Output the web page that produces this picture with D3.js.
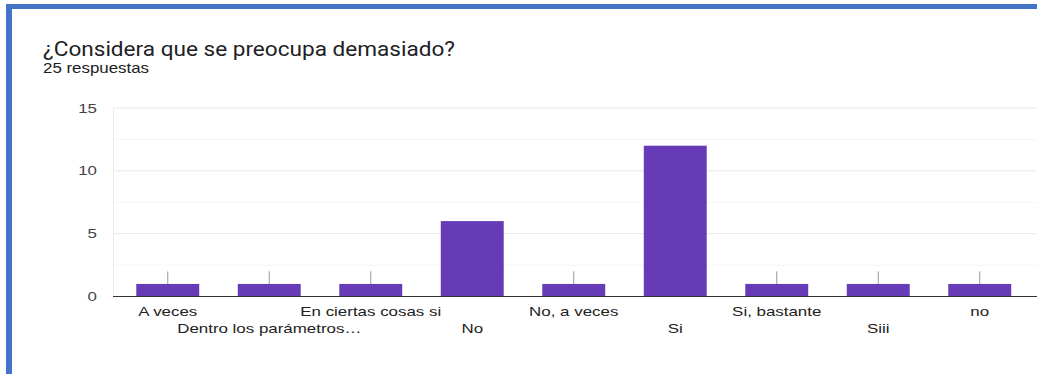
<!DOCTYPE html>
<html>
  <head>
    <meta charset="UTF-8" />
    <script src="https://cdnjs.cloudflare.com/ajax/libs/d3/7.8.5/d3.min.js"></script>
    <style>
      html, body { margin: 0; padding: 0; background: #fff; }
    </style>
  </head>
  <body>
    <svg id="chart" width="1037" height="374"></svg>
    <script>
      const title = "¿Considera que se preocupa demasiado?";
      const subtitle = "25 respuestas";
      const categories = [
        "A veces",
        "Dentro los parámetros…",
        "En ciertas cosas si",
        "No",
        "No, a veces",
        "Si",
        "Si, bastante",
        "Siii",
        "no"
      ];
      const counts = [1, 1, 1, 6, 1, 12, 1, 1, 1];
      const yTicks = [0, 5, 10, 15];
      const yMinorTicks = [2.5, 7.5, 12.5];

      const purple = "#673ab7",
        border = "#4573c7";

      // the screenshot is a bit wider than tall, so text is stretched sideways
      const stretch = 1.3;
      function widen(sel, k) {
        sel.each(function () {
          const w = this.getComputedTextLength();
          d3.select(this)
            .attr("textLength", w * (k || stretch))
            .attr("lengthAdjust", "spacingAndGlyphs");
        });
      }
      function fitTo(sel, width) {
        sel.attr("textLength", width).attr("lengthAdjust", "spacingAndGlyphs");
      }

      const svg = d3.select("#chart");

      // blue frame (top + left)
      svg.append("rect").attr("x", 6).attr("y", 4).attr("width", 1031).attr("height", 5).attr("fill", border);
      svg.append("rect").attr("x", 6).attr("y", 4).attr("width", 6).attr("height", 370).attr("fill", border);

      svg.append("text")
        .attr("x", 43).attr("y", 56)
        .attr("font-family", "Roboto, Arial, sans-serif")
        .attr("font-size", 20)
        .attr("fill", "#202124")
        .text(title)
        .call(fitTo, 412);
      svg.append("text")
        .attr("x", 43).attr("y", 73)
        .attr("font-family", "Arial, Liberation Sans, sans-serif")
        .attr("font-size", 14.5)
        .attr("fill", "#202124")
        .text(subtitle)
        .call(fitTo, 106);

      const step = 101.5;
      const x = d3.scaleBand()
        .domain(categories)
        .range([117, 117 + step * categories.length])
        .paddingInner(0.38)
        .paddingOuter(0.19);
      const y = d3.scaleLinear().domain([0, 15]).range([296.5, 108]);

      // gridlines
      svg.append("g").selectAll("line.minor")
        .data(yMinorTicks).enter().append("line")
        .attr("x1", 113).attr("x2", 1037)
        .attr("y1", d => y(d)).attr("y2", d => y(d))
        .attr("stroke", "#f5f5f5").attr("stroke-width", 1);
      svg.append("g").selectAll("line.major")
        .data(yTicks.filter(d => d > 0)).enter().append("line")
        .attr("x1", 113).attr("x2", 1037)
        .attr("y1", d => y(d)).attr("y2", d => y(d))
        .attr("stroke", "#e8e8e8").attr("stroke-width", 1);
      svg.append("line")
        .attr("x1", 113.5).attr("x2", 113.5)
        .attr("y1", y(15)).attr("y2", y(0))
        .attr("stroke", "#ececec");

      // y tick labels
      svg.append("g").selectAll("text")
        .data(yTicks).enter().append("text")
        .attr("x", 97).attr("y", d => y(d) + 4.5)
        .attr("text-anchor", "end")
        .attr("font-family", "Arial, Liberation Sans, sans-serif")
        .attr("font-size", 13)
        .attr("fill", "#444")
        .text(d => d)
        .call(widen);

      // bars
      svg.append("g").selectAll("rect")
        .data(categories).enter().append("rect")
        .attr("x", d => x(d))
        .attr("width", x.bandwidth())
        .attr("y", (d, i) => y(counts[i]))
        .attr("height", (d, i) => y(0) - y(counts[i]))
        .attr("fill", purple);

      // small gray stems above single-count bars
      svg.append("g").selectAll("line")
        .data(categories.filter((d, i) => counts[i] === 1)).enter().append("line")
        .attr("x1", d => x(d) + x.bandwidth() / 2)
        .attr("x2", d => x(d) + x.bandwidth() / 2)
        .attr("y1", y(2)).attr("y2", y(1))
        .attr("stroke", "#999").attr("stroke-width", 1);

      // baseline
      svg.append("line")
        .attr("x1", 113).attr("x2", 1037)
        .attr("y1", y(0)).attr("y2", y(0))
        .attr("stroke", "#333").attr("stroke-width", 1.2);

      // x labels, alternating rows
      svg.append("g").selectAll("text")
        .data(categories).enter().append("text")
        .attr("x", d => x(d) + x.bandwidth() / 2)
        .attr("y", (d, i) => i % 2 === 0 ? 316 : 332.5)
        .attr("text-anchor", "middle")
        .attr("font-family", "Arial, Liberation Sans, sans-serif")
        .attr("font-size", 13)
        .attr("fill", "#222")
        .text(d => d)
        .call(widen);
    </script>
  </body>
</html>
